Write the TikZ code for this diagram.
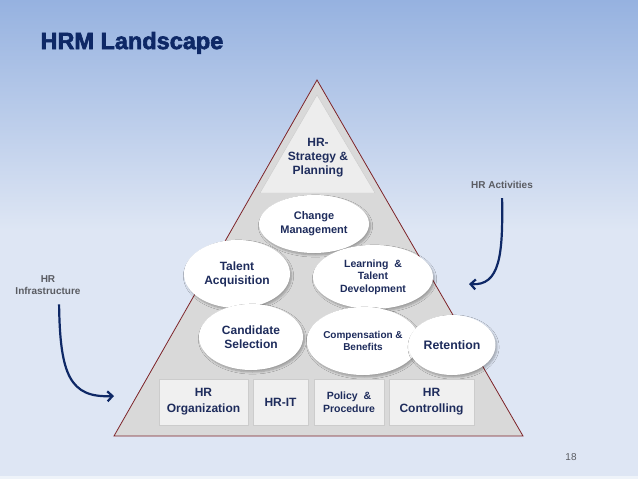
\documentclass[tikz,border=0pt]{standalone}
\usepackage{fontspec}
\setmainfont{Liberation Sans}
\newfontfamily\titlefont{Liberation Sans}[BoldFeatures={FakeBold=2.5}]
\usetikzlibrary{shapes.geometric,arrows.meta,shadows.blur}
\definecolor{navy}{RGB}{14,40,102}
\definecolor{txtblue}{RGB}{30,44,92}
\definecolor{edge}{RGB}{125,35,40}
\definecolor{grytxt}{RGB}{90,92,98}
\definecolor{skytop}{RGB}{150,178,224}
\definecolor{skymid}{RGB}{205,217,238}
\definecolor{skybot}{RGB}{222,230,244}
\begin{document}
\begin{tikzpicture}[x=1pt,y=-1pt,
  bub/.style={ellipse,fill=white,inner sep=0pt,align=center,text=txtblue,
    blur shadow={shadow xshift=1.5pt,shadow yshift=-2pt,shadow opacity=30,shadow blur steps=6}},
  box/.style={rectangle,fill=black!6,draw=black!20,inner sep=0pt,align=center,text=txtblue},
  note/.style={align=center,text=grytxt,font=\fontsize{10}{12.5}\selectfont\bfseries},
  hook/.style={draw=navy,line width=2.2pt,-{Straight Barb[length=5pt,width=10pt]}}]
	\useasboundingbox (0,0) rectangle (638,479);
	\fill[skybot] (0,0) rectangle (638,479);
	\shade[top color=skytop,middle color=skymid,bottom color=skybot] (0,0) rectangle (638,230);
	\fill[white!50!skybot] (0,476) rectangle (638,479);
	\node[anchor=west,text=navy,font=\titlefont\fontsize{23.5}{26}\selectfont\bfseries] (ttl) at (37,43) {HRM Landscape};
	% pyramid
	\draw[edge,fill=black!15,line width=0.8pt] (317,80) -- (523,436) -- (114,436) -- cycle;
	\draw[white!80!black,fill=black!7] (317,95) -- (375,193) -- (260,193) -- cycle;
	\node[align=center,text=txtblue,font=\fontsize{12}{14}\selectfont\bfseries] (strat) at (318,158) {HR-\\Strategy \&\\Planning};
	% activities
	\node[bub,minimum width=110pt,minimum height=58pt,font=\fontsize{11}{14}\selectfont\bfseries] (chg) at (314,224) {Change\\Management};
	\node[bub,minimum width=106pt,minimum height=68pt,font=\fontsize{12}{14}\selectfont\bfseries] (tal) at (237,274) {Talent\\Acquisition};
	\node[bub,minimum width=120pt,minimum height=64pt,font=\fontsize{10.5}{12.5}\selectfont\bfseries] (lrn) at (373,277) {Learning \ \&\\Talent\\Development};
	\node[bub,minimum width=104pt,minimum height=66pt,font=\fontsize{12}{14}\selectfont\bfseries] (cand) at (251,337) {Candidate\\Selection};
	\node[bub,minimum width=108pt,minimum height=68pt,font=\fontsize{10}{12}\selectfont\bfseries] (comp) at (363,341) {Compensation \&\\Benefits};
	\node[bub,minimum width=87pt,minimum height=60pt,font=\fontsize{12.3}{14}\selectfont\bfseries] (ret) at (452,345) {Retention};
	% infrastructure
	\node[box,minimum width=89pt,minimum height=46pt,font=\fontsize{12}{16}\selectfont\bfseries] (org) at (203.5,402) {HR\\Organization};
	\node[box,minimum width=55pt,minimum height=46pt,font=\fontsize{12}{16}\selectfont\bfseries] (hrit) at (280.5,402) {HR-IT};
	\node[box,minimum width=70pt,minimum height=46pt,font=\fontsize{10.5}{13}\selectfont\bfseries] (pol) at (349,402) {Policy \ \&\\Procedure};
	\node[box,minimum width=85pt,minimum height=46pt,font=\fontsize{12}{16}\selectfont\bfseries] (ctl) at (431.5,402) {HR\\Controlling};
	% side labels
	\node[note] (act) at (502,185) {HR Activities};
	\node[note] (inf) at (48,285) {HR\\Infrastructure};
	\coordinate (actend) at (469,284);
	\coordinate (infend) at (114,396);
	\draw[hook,shorten <=6pt] (act.south) .. controls (503,255) and (500,286) .. (actend);
	\draw[hook,shorten <=6pt] ([xshift=11pt]inf.south) .. controls (60,375) and (70,398) .. (infend);
	\node[text=grytxt,font=\fontsize{10}{12}\selectfont] (pg) at (571,457) {18};
\end{tikzpicture}
\end{document}
